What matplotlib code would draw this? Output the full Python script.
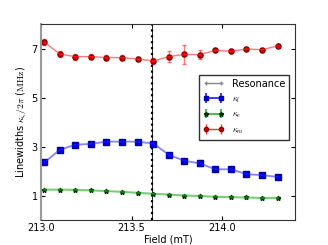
import matplotlib
matplotlib.use("Agg")
import matplotlib.pyplot as plt
from matplotlib.lines import Line2D
from matplotlib.container import ErrorbarContainer
from matplotlib.legend_handler import HandlerErrorbar, HandlerLine2D

plt.rcParams["mathtext.fontset"] = "cm"
plt.rcParams["font.family"] = ["DejaVu Sans"]

# field values (mT)
field = [213.02, 213.106, 213.19, 213.277, 213.362, 213.448, 213.533, 213.62,
         213.705, 213.79, 213.875, 213.96, 214.047, 214.132, 214.218, 214.304]
resonance = 213.615

kappa_m = [7.26, 6.77, 6.67, 6.67, 6.63, 6.63, 6.57, 6.49,
           6.67, 6.76, 6.75, 6.92, 6.89, 6.98, 6.95, 7.11]
kappa_m_err = [0.12, 0.12, 0.12, 0.1, 0.1, 0.1, 0.1, 0.12,
               0.22, 0.4, 0.18, 0.08, 0.06, 0.06, 0.05, 0.06]

kappa_l = [2.35, 2.87, 3.07, 3.11, 3.2, 3.2, 3.2, 3.12,
           2.66, 2.42, 2.31, 2.07, 2.07, 1.87, 1.83, 1.76]
kappa_l_err = [0.06, 0.06, 0.06, 0.05, 0.05, 0.05, 0.05, 0.06,
               0.06, 0.06, 0.12, 0.08, 0.06, 0.05, 0.05, 0.05]

kappa_e = [1.24, 1.24, 1.23, 1.21, 1.18, 1.15, 1.11, 1.07,
           1.04, 1.0, 0.98, 0.95, 0.93, 0.92, 0.9, 0.9]
kappa_e_err = [0.03] * 16

fig = plt.figure(figsize=(3.28, 2.45), dpi=100)
ax = fig.add_axes([0.124, 0.102, 0.776, 0.8])

ax.axvline(resonance, color="black", lw=1.6, ls=":")
ax.axvline(resonance, color="black", lw=0.6)

ax.errorbar(field, kappa_l, yerr=kappa_l_err, color="#2020ff", alpha=0.55,
            lw=1.3, elinewidth=1, capsize=1.5)
ax.plot(field, kappa_l, ls="none", marker="s", ms=3.7, color="#0000dd", mec="#0000aa")
ax.errorbar(field, kappa_e, yerr=kappa_e_err, color="#22aa22", alpha=0.6,
            lw=1.5, elinewidth=1, capsize=1.5)
ax.plot(field, kappa_e, ls="none", marker="*", ms=3.5, color="#004400", mec="#003300")
ax.errorbar(field, kappa_m, yerr=kappa_m_err, color="#ff2020", alpha=0.6,
            lw=1, elinewidth=1, capsize=1.5)
ax.plot(field, kappa_m, ls="none", marker="o", ms=3.7, color="#dd0000", mec="#880000")

ax.set_xlim(213.0, 214.4)
ax.set_ylim(0, 8)
ax.set_xticks([213.0, 213.5, 214.0])
ax.set_xticklabels(["213.0", "213.5", "214.0"])
ax.set_yticks([1, 3, 5, 7])
ax.tick_params(labelsize=7, length=3, direction="in", top=True, right=True, pad=2)
for s in ax.spines.values():
    s.set_color("#333333")
    s.set_linewidth(0.8)
ax.spines["left"].set_color("#999999")
ax.spines["left"].set_linewidth(1.5)

ax.set_xlabel("Field (mT)", fontsize=7, labelpad=1)
ax.set_ylabel(r"Linewidths $\kappa_\zeta/2\pi$ ($\mathrm{MHz}$)", fontsize=7, labelpad=2)

handles = [
    Line2D([0], [0], color="#888888", lw=1, marker="+", ms=3),
    ax.errorbar([], [], yerr=[], color="#4040ff", marker="s", ms=3.5, mfc="#0000dd",
                mec="#0000aa", capsize=1.5, lw=1.5),
    ax.errorbar([], [], yerr=[], color="#55bb55", marker="*", ms=3.5, mfc="#004400",
                mec="#003300", capsize=1.5, lw=1.5),
    ax.errorbar([], [], yerr=[], color="#ff3030", marker="o", ms=3, mfc="#dd0000",
                mec="#880000", capsize=1.5, lw=1),
]
labels = ["Resonance", r"$\kappa_l$", r"$\kappa_e$", r"$\kappa_m$"]
leg = ax.legend(handles, labels, loc="upper right", bbox_to_anchor=(0.995, 0.765),
                fontsize=7, handlelength=2.2, labelspacing=0.55,
                borderpad=0.4, fancybox=False, framealpha=1, edgecolor="#333333",
                handler_map={ErrorbarContainer: HandlerErrorbar(numpoints=2),
                             Line2D: HandlerLine2D(numpoints=2)})
for t in leg.get_texts()[1:]:
    t.set_fontsize(6)

fig.savefig("out.png", dpi=100)
